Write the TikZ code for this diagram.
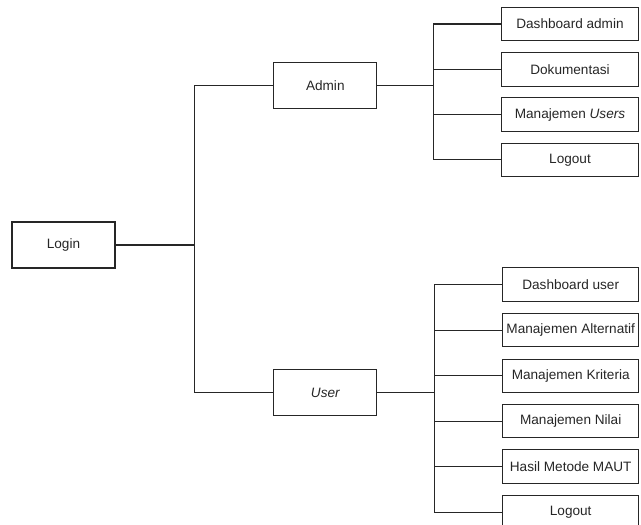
\documentclass[tikz,border=0pt]{standalone}
\usepackage{fontspec}
\setmainfont{Liberation Sans}
\usepackage{tikz}

\begin{document}
\begin{tikzpicture}[x=0.75pt, y=-0.75pt,
  every node/.style={font=\fontsize{10.2}{12}\selectfont, text=black!85},
  menu/.style={draw=black!85, line width=0.8pt, minimum width=103*0.75pt, minimum height=46*0.75pt, inner sep=0pt},
  sub/.style={draw=black!85, line width=0.8pt, minimum width=136.5*0.75pt, minimum height=33.5*0.75pt, inner sep=0pt},
  link/.style={draw=black!85, line width=0.8pt}]
  \useasboundingbox (0,0) rectangle (641,524);

  % top level
  \node[menu] (login) at (63.5,245) {Login};
  \node[menu] (admin) at (325.3,85.7) {Admin};
  \node[menu] (user) at (325.3,392.7) {\itshape User};

  % admin menu
  \node[sub] (adash) at (570,24) {Dashboard admin};
  \node[sub] (adok) at (570,69.3) {Dokumentasi};
  \node[sub] (auser) at (570,114.5) {Manajemen \textit{Users}};
  \node[sub] (aout) at (570,159.8) {Logout};

  % user menu
  \node[sub] (udash) at (570.7,284.5) {Dashboard user};
  \node[sub] (ualt) at (570.7,330.2) {Manajemen Alternatif};
  \node[sub] (ukrit) at (570.7,375.8) {Manajemen Kriteria};
  \node[sub] (unilai) at (570.7,421.2) {Manajemen Nilai};
  \node[sub] (umaut) at (570.7,466.7) {Hasil Metode MAUT};
  \node[sub] (uout) at (570.7,512.3) {Logout};

  % connectors
  \coordinate (jlogin) at (194.5,245);
  \coordinate (jadmin) at (433.5,85.7);
  \coordinate (juser) at (434.3,392.7);

  \draw[link] (login.east) -- (jlogin);
  \draw[link] (admin.west) -| (jlogin) |- (user.west);

  \draw[link] (admin.east) -- (jadmin);
  \draw[link] (adash.west) -| (jadmin) |- (aout.west);
  \draw[link] (adok.west) -- (adok.west -| jadmin);
  \draw[link] (auser.west) -- (auser.west -| jadmin);

  \draw[link] (user.east) -- (juser);
  \draw[link] (udash.west) -| (juser) |- (uout.west);
  \draw[link] (ualt.west) -- (ualt.west -| juser);
  \draw[link] (ukrit.west) -- (ukrit.west -| juser);
  \draw[link] (unilai.west) -- (unilai.west -| juser);
  \draw[link] (umaut.west) -- (umaut.west -| juser);

\end{tikzpicture}
\end{document}
